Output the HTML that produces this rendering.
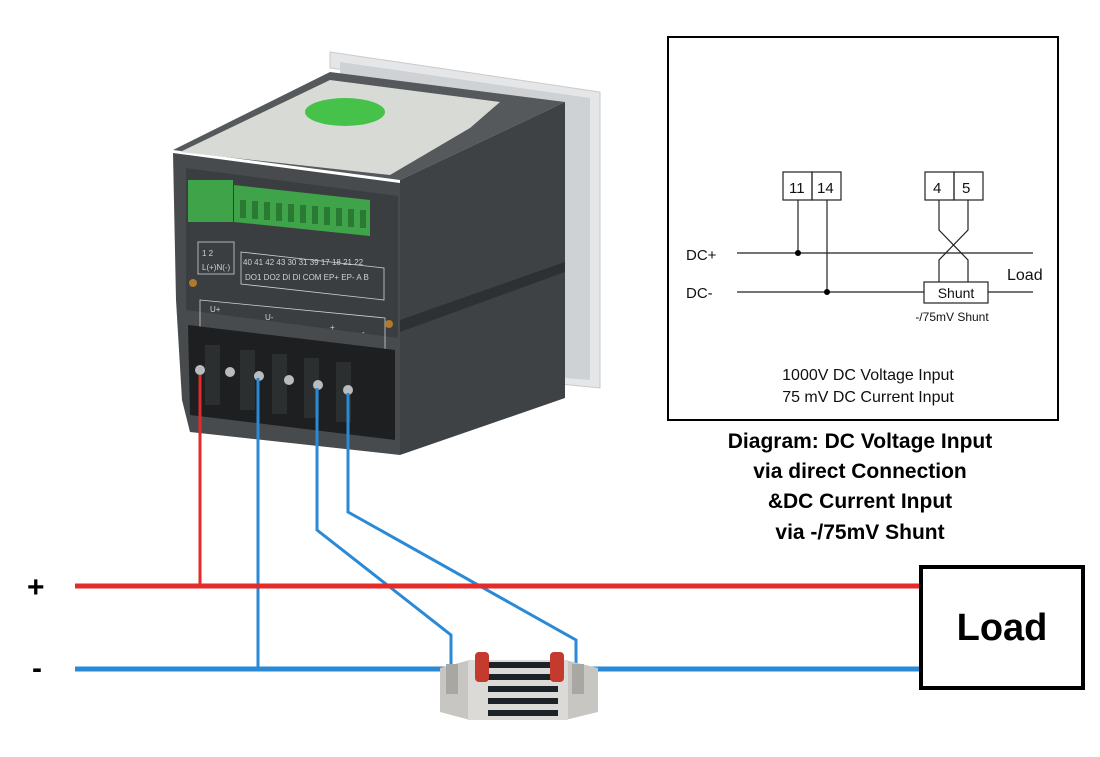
<!DOCTYPE html>
<html><head><meta charset="utf-8"><style>
body{margin:0;width:1100px;height:752px;background:#fff;overflow:hidden;font-family:"Liberation Sans",sans-serif}
</style></head><body>
<svg width="1100" height="752" viewBox="0 0 1100 752" xmlns="http://www.w3.org/2000/svg" font-family="Liberation Sans, sans-serif">
<!-- meter bezel -->
<polygon points="330,52 600,92 600,388 560,384 560,100 330,68" fill="#e4e6e8" stroke="#c8cacc"/>
<polygon points="340,62 590,98 590,380 565,378 565,108 340,75" fill="#cfd2d4"/>
<!-- top face -->
<polygon points="173,150 330,72 565,102 400,180" fill="#55595b"/>
<polygon points="180,152 330,80 500,102 470,128 390,175" fill="#d8dad6"/>
<ellipse cx="345" cy="112" rx="40" ry="14" fill="#46c24b"/>
<!-- side face -->
<polygon points="400,180 565,102 565,398 400,455" fill="#3e4244"/>
<polygon points="400,320 565,262 565,272 400,332" fill="#2e3133"/>
<!-- back face -->
<polygon points="173,153 400,183 400,455 190,432 182,400 176,300" fill="#474b4d"/>
<polygon points="186,168 398,196 398,338 186,310" fill="#3a3e40"/>
<!-- green connectors -->
<rect x="188" y="180" width="45" height="42" fill="#3fa34a"/>
<polygon points="234,185 370,200 370,236 234,222" fill="#3fa34a"/>
<g fill="#2a7a34"><rect x="240" y="200" width="6" height="18"/><rect x="252" y="201" width="6" height="18"/><rect x="264" y="202" width="6" height="18"/><rect x="276" y="203" width="6" height="18"/><rect x="288" y="204" width="6" height="18"/><rect x="300" y="205" width="6" height="18"/><rect x="312" y="206" width="6" height="18"/><rect x="324" y="207" width="6" height="18"/><rect x="336" y="208" width="6" height="18"/><rect x="348" y="209" width="6" height="18"/><rect x="360" y="210" width="6" height="18"/></g>
<g fill="none" stroke="#cfd2d4" stroke-width="0.8"><rect x="198" y="242" width="36" height="32"/><polygon points="241,252 384,268 384,300 241,284"/><polygon points="200,300 385,318 385,352 200,334"/></g>
<g font-size="8" fill="#cfd2d4"><text x="202" y="256">1 2</text><text x="202" y="270">L(+)N(-)</text><text x="243" y="265">40 41 42 43 30 31 39 17 18 21 22</text><text x="245" y="280">DO1 DO2 DI DI COM EP+ EP- A B</text><text x="210" y="312">U+</text><text x="265" y="320">U-</text><text x="330" y="330">+</text><text x="362" y="335">-</text></g>
<circle cx="193" cy="283" r="4" fill="#b07a2a"/><circle cx="389" cy="324" r="4" fill="#b07a2a"/>
<!-- terminal block -->
<polygon points="188,325 395,350 395,440 190,415" fill="#1d1f20"/>
<g fill="#2c2f30"><rect x="205" y="345" width="15" height="60"/><rect x="240" y="350" width="15" height="60"/><rect x="272" y="354" width="15" height="60"/><rect x="304" y="358" width="15" height="60"/><rect x="336" y="362" width="15" height="60"/></g>
<g fill="#b9bcbe"><circle cx="200" cy="370" r="5"/><circle cx="230" cy="372" r="5"/><circle cx="259" cy="376" r="5"/><circle cx="289" cy="380" r="5"/><circle cx="318" cy="385" r="5"/><circle cx="348" cy="390" r="5"/></g>
<!-- wires -->
<g fill="none" stroke-width="3">
<polyline points="200,375 200,586" stroke="#e52a2a"/>
<polyline points="258,378 258,668" stroke="#2b8ad6"/>
<polyline points="317,388 317,530 451,635 451,668" stroke="#2b8ad6"/>
<polyline points="348,393 348,512 576,640 576,668" stroke="#2b8ad6"/>
</g>
<line x1="75" y1="586" x2="921" y2="586" stroke="#e52a2a" stroke-width="5"/>
<line x1="75" y1="669" x2="450" y2="669" stroke="#2b8ad6" stroke-width="5"/>
<line x1="578" y1="669" x2="921" y2="669" stroke="#2b8ad6" stroke-width="5"/>
<text x="27" y="597" font-size="30" font-weight="bold">+</text>
<text x="32" y="678" font-size="30" font-weight="bold">-</text>
<!-- shunt -->
<polygon points="440,668 470,660 470,720 440,712" fill="#c8c6c2"/>
<polygon points="565,660 598,668 598,712 565,720" fill="#c8c6c2"/>
<rect x="468" y="660" width="100" height="60" fill="#dcdad6"/>
<g fill="#1b2328"><rect x="488" y="662" width="70" height="6"/><rect x="488" y="674" width="70" height="6"/><rect x="488" y="686" width="70" height="6"/><rect x="488" y="698" width="70" height="6"/><rect x="488" y="710" width="70" height="6"/></g>
<rect x="475" y="652" width="14" height="30" rx="4" fill="#c43a2e"/><rect x="550" y="652" width="14" height="30" rx="4" fill="#c43a2e"/>
<rect x="446" y="664" width="12" height="30" fill="#a9a7a2"/><rect x="572" y="664" width="12" height="30" fill="#a9a7a2"/>
<!-- load -->
<rect x="921" y="567" width="162" height="121" fill="#fff" stroke="#000" stroke-width="4"/>
<text x="1002" y="640" font-size="38" font-weight="bold" text-anchor="middle">Load</text>
<!-- schematic -->
<rect x="668" y="37" width="390" height="383" fill="#fff" stroke="#000" stroke-width="2"/>
<g fill="none" stroke="#222" stroke-width="1.2">
<rect x="783" y="172" width="29" height="28"/><rect x="812" y="172" width="29" height="28"/>
<rect x="925" y="172" width="29" height="28"/><rect x="954" y="172" width="29" height="28"/>
<line x1="737" y1="253" x2="1033" y2="253"/>
<line x1="737" y1="292" x2="924" y2="292"/><line x1="988" y1="292" x2="1033" y2="292"/>
<line x1="798" y1="200" x2="798" y2="253"/><line x1="827" y1="200" x2="827" y2="292"/>
<polyline points="939,200 939,230 968,260 968,282"/><polyline points="968,200 968,230 939,260 939,282"/>
<rect x="924" y="282" width="64" height="21"/>
</g>
<circle cx="798" cy="253" r="3"/><circle cx="827" cy="292" r="3"/>
<g font-size="15" fill="#111"><text x="789" y="193">11</text><text x="817" y="193">14</text><text x="933" y="193">4</text><text x="962" y="193">5</text>
<text x="686" y="260">DC+</text><text x="686" y="298">DC-</text><text x="1007" y="280" font-size="16">Load</text>
<text x="956" y="298" text-anchor="middle" font-size="14">Shunt</text>
<text x="952" y="321" text-anchor="middle" font-size="12">-/75mV Shunt</text>
<text x="868" y="380" text-anchor="middle" font-size="16">1000V DC Voltage Input</text>
<text x="868" y="402" text-anchor="middle" font-size="16">75 mV DC Current Input</text></g>
<g font-size="21" font-weight="bold" text-anchor="middle" fill="#000">
<text x="860" y="448">Diagram: DC Voltage Input</text>
<text x="860" y="478">via direct Connection</text>
<text x="860" y="508">&amp;DC Current Input</text>
<text x="860" y="539">via -/75mV Shunt</text></g>
</svg>
</body></html>
